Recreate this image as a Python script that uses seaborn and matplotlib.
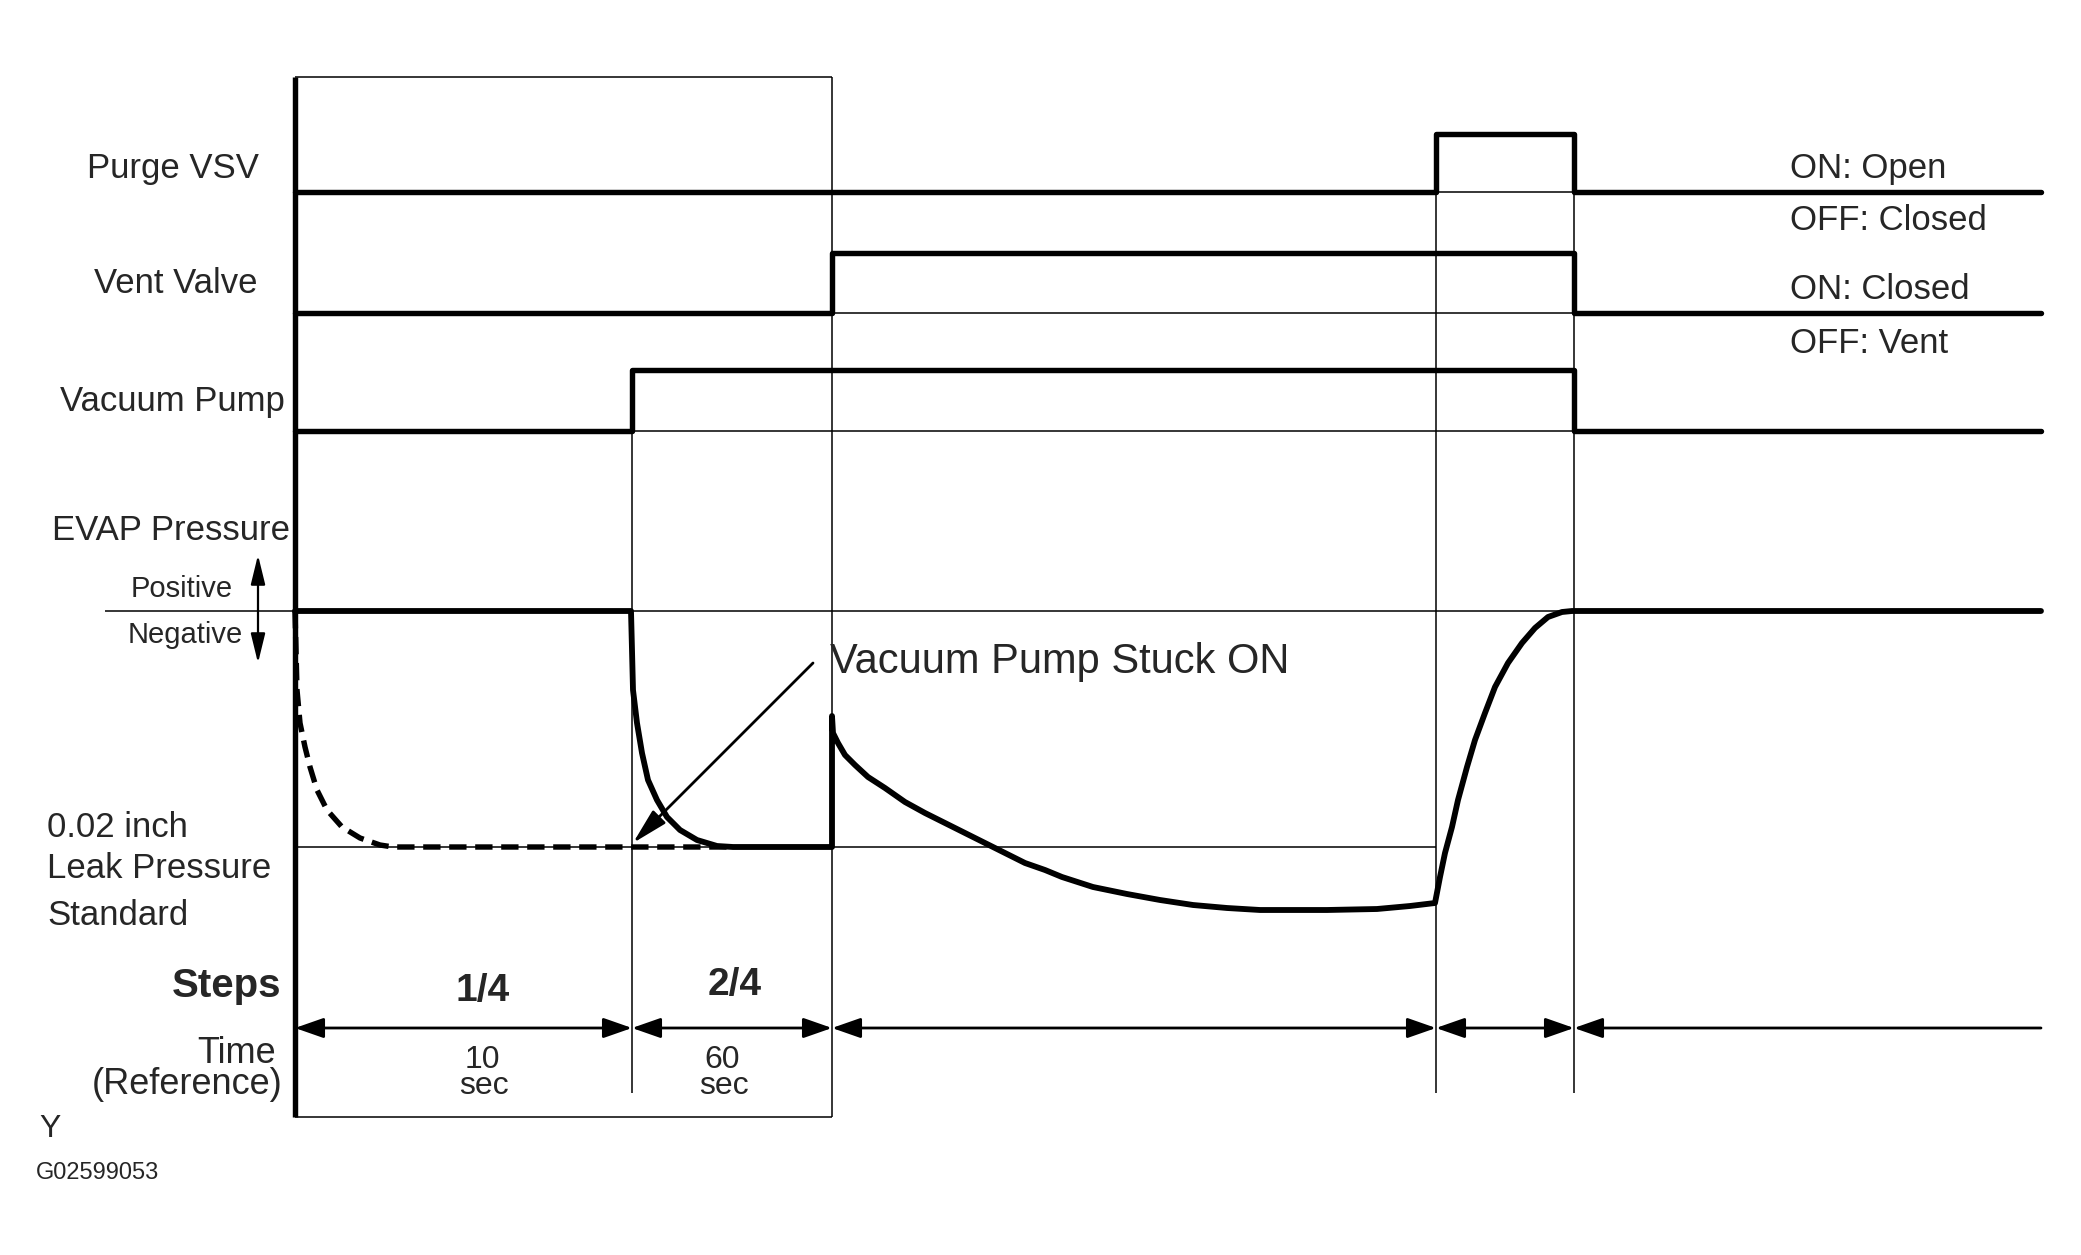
import numpy as np
import pandas as pd
import matplotlib
matplotlib.use("Agg")
import matplotlib.pyplot as plt
import seaborn as sns

sns.set_theme(style="white")
plt.rcParams['font.family'] = ['Liberation Sans', 'DejaVu Sans']

# diagram units: x = time position, y = signal level (down is larger)
edges = [295, 632, 832, 1436, 1574, 2041]       # phase boundaries
t0, t_pump, t_vent, t_purge, t_end, t_right = edges
box_top, box_bottom = 77, 1117
tick_bottom = 1093
arrow_row = 1028

# signal rows: OFF level, ON level
purge_lvl = [192, 134]
vent_lvl = [313, 253]
pump_lvl = [431, 370]
evap_zero = 611
leak_std = 847

# step signals: change times and state after each change
purge_t = [295, 1436, 1574, 2041]
purge_s = [0, 1, 0, 0]
vent_t = [295, 832, 1574, 2041]
vent_s = [0, 1, 0, 0]
pump_t = [295, 632, 1574, 2041]
pump_s = [0, 1, 0, 0]

# EVAP pressure, normal trace
evap_x = [295, 631, 632, 633, 637, 642, 648, 657, 667, 680, 697, 717, 733,
          832, 832, 833, 838, 845, 855, 868, 885, 905, 925, 945, 965, 985,
          1005, 1025, 1045, 1062, 1093, 1127, 1160, 1193, 1227, 1260, 1327,
          1377, 1410, 1435, 1440, 1445, 1452, 1458, 1467, 1475, 1485, 1495,
          1508, 1522, 1535, 1548, 1562, 1572, 2041]
evap_y = [611, 611, 650, 690, 723, 753, 780, 800, 817, 830, 840, 846, 847,
          847, 716, 733, 743, 755, 765, 777, 788, 802, 813, 823, 833, 843,
          853, 863, 870, 877, 887, 894, 900, 905, 908, 910, 910,
          909, 906, 903, 877, 853, 827, 800, 767, 740, 713, 687,
          663, 643, 628, 617, 612, 611, 611]

# EVAP pressure with vacuum pump stuck ON
stuck_x = [295, 297, 300, 305, 310, 317, 327, 342, 360, 380, 393, 733]
stuck_y = [611, 690, 723, 747, 767, 790, 810, 827, 838, 845, 847, 847]

row_labels = ["Purge VSV", "Vent Valve", "Vacuum Pump", "EVAP Pressure"]
row_label_pos = [(259, 178), (257, 293), (285, 411), (290, 540)]
state_labels = ["ON: Open", "OFF: Closed", "ON: Closed", "OFF: Vent"]
state_label_y = [178, 230, 299, 353]
steps = ["1/4", "2/4"]
steps_x = [483, 735]
steps_y = [1001, 995]
times = ["10", "60"]
times_x = [482, 722]

thick = 3.9
thin = 1.1

fig = plt.figure(figsize=(20.81, 12.55), dpi=100)
ax = fig.add_axes([0, 0, 1, 1])

# thin frame and reference lines
ax.hlines([box_top, box_bottom], t0, t_vent, color='black', lw=thin)
ax.vlines(t_vent, box_top, box_bottom, color='black', lw=thin)
ax.vlines(t_pump, pump_lvl[1], tick_bottom, color='black', lw=thin)
ax.vlines([t_purge, t_end], purge_lvl[1], tick_bottom, color='black', lw=thin)
ax.hlines(purge_lvl[0], t_purge, t_end, color='black', lw=thin)
ax.hlines(vent_lvl[0], t_vent, t_end, color='black', lw=thin)
ax.hlines(pump_lvl[0], t_pump, t_end, color='black', lw=thin)
ax.hlines(evap_zero, 105, t_right, color='black', lw=thin)
ax.hlines(leak_std, t0, t_purge, color='black', lw=thin)

# thick left axis
ax.vlines(t0, box_top, box_bottom, color='black', lw=thick)

# step signals
for ts, ss, lvl in [(purge_t, purge_s, purge_lvl), (vent_t, vent_s, vent_lvl),
                    (pump_t, pump_s, pump_lvl)]:
    df = pd.DataFrame({"t": ts, "level": [lvl[s] for s in ss]})
    sns.lineplot(data=df, x="t", y="level", ax=ax, color='black', lw=thick,
                 estimator=None, sort=False, drawstyle='steps-post')

# EVAP pressure traces
sns.lineplot(x=evap_x, y=evap_y, ax=ax, color='black', lw=thick + 0.3,
             estimator=None, sort=False, solid_joinstyle='round')
sns.lineplot(x=stuck_x, y=stuck_y, ax=ax, color='black', lw=thick,
             estimator=None, sort=False, linestyle=(0, (3.2, 1.6)))
ax.set_xlim(0, 2081)
ax.set_ylim(1255, 0)
ax.axis('off')

# time arrows
astyle = '<|-|>,head_length=0.8,head_width=0.28'
for a, b in zip(edges[:4], edges[1:5]):
    ax.annotate('', xy=(b, arrow_row), xytext=(a, arrow_row),
                arrowprops=dict(arrowstyle=astyle, color='black', lw=2,
                                mutation_scale=22, shrinkA=0, shrinkB=0))
ax.annotate('', xy=(t_end, arrow_row), xytext=(t_right, arrow_row),
            arrowprops=dict(arrowstyle='-|>,head_length=0.8,head_width=0.28',
                            color='black', lw=2, mutation_scale=22,
                            shrinkA=0, shrinkB=0))

# positive / negative arrow
ax.annotate('', xy=(258, 555), xytext=(258, 663),
            arrowprops=dict(arrowstyle='<|-|>,head_length=0.9,head_width=0.22',
                            color='black', lw=1.6, mutation_scale=20,
                            shrinkA=0, shrinkB=0))

# stuck ON callout
ax.annotate('', xy=(633, 843), xytext=(813, 663),
            arrowprops=dict(arrowstyle='-|>,head_length=1.0,head_width=0.25',
                            color='black', lw=2, mutation_scale=22,
                            shrinkA=0, shrinkB=0))
ax.text(830, 673, "Vacuum Pump Stuck ON", fontsize=30, ha='left', va='baseline')

# labels
for txt, (x, y) in zip(row_labels, row_label_pos):
    ax.text(x, y, txt, fontsize=25, ha='right', va='baseline')
for txt, y in zip(state_labels, state_label_y):
    ax.text(1790, y, txt, fontsize=25, ha='left', va='baseline')
ax.text(233, 597, "Positive", fontsize=21, ha='right', va='baseline')
ax.text(243, 643, "Negative", fontsize=21, ha='right', va='baseline')
for i, txt in enumerate(["0.02 inch", "Leak Pressure", "Standard"]):
    ax.text(47, [837, 878, 925][i], txt, fontsize=25, ha='left', va='baseline')

ax.text(281, 997, "Steps", fontsize=29, fontweight='bold', ha='right', va='baseline')
for txt, x, y in zip(steps, steps_x, steps_y):
    ax.text(x, y, txt, fontsize=28, fontweight='bold', ha='center', va='baseline')
ax.text(276, 1063, "Time", fontsize=26, ha='right', va='baseline')
ax.text(282, 1094, "(Reference)", fontsize=26, ha='right', va='baseline')
for txt, x in zip(times, times_x):
    ax.text(x, 1068, txt, fontsize=23, ha='center', va='baseline')
    ax.text(x + 2, 1094, "sec", fontsize=23, ha='center', va='baseline')

ax.text(39, 1137, "Y", fontsize=23, ha='left', va='baseline')
ax.text(36, 1179, "G02599053", fontsize=17, ha='left', va='baseline')

fig.savefig("out.png", dpi=100, facecolor='white')
